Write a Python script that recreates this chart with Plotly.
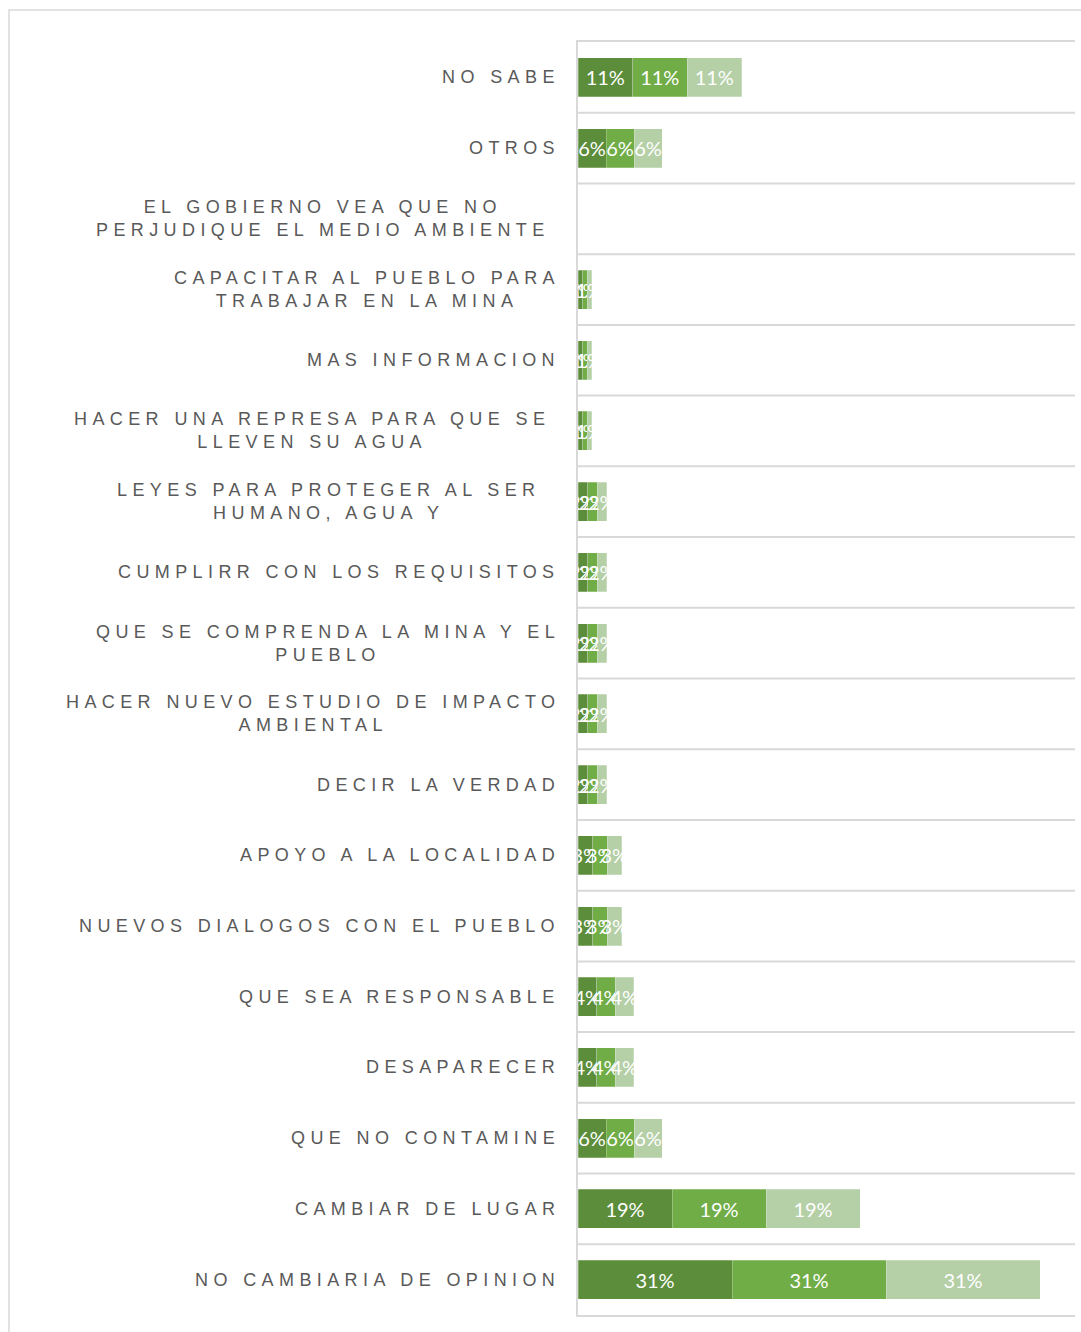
import plotly.graph_objects as go

categories = [
    "NO SABE",
    "OTROS",
    "EL GOBIERNO VEA QUE NO<br>PERJUDIQUE EL MEDIO AMBIENTE",
    "CAPACITAR AL PUEBLO PARA<br>TRABAJAR EN LA MINA",
    "MAS INFORMACION",
    "HACER UNA REPRESA PARA QUE SE<br>LLEVEN SU AGUA",
    "LEYES PARA PROTEGER AL SER<br>HUMANO, AGUA Y",
    "CUMPLIRR CON LOS REQUISITOS",
    "QUE SE COMPRENDA LA MINA Y EL<br>PUEBLO",
    "HACER NUEVO ESTUDIO DE IMPACTO<br>AMBIENTAL",
    "DECIR LA VERDAD",
    "APOYO A LA LOCALIDAD",
    "NUEVOS DIALOGOS CON EL PUEBLO",
    "QUE SEA RESPONSABLE",
    "DESAPARECER",
    "QUE NO CONTAMINE",
    "CAMBIAR DE LUGAR",
    "NO CAMBIARIA DE OPINION",
]
# percent values (same for the three series)
serie1 = [10.9, 5.6, 0.0, 0.9, 0.9, 0.9, 1.9, 1.9, 1.9, 1.9, 1.9, 2.9, 2.9, 3.7, 3.7, 5.6, 18.8, 30.8]
serie2 = list(serie1)
serie3 = list(serie1)
series_names = ["Serie 1", "Serie 2", "Serie 3"]
colors = ["#5B8D3A", "#70AD47", "#B5CFA7"]
label_shift = [0, 0, -10, 0, 0, -10, -19, 0, 0, 0, 0, 0, 0, 0, 0, 0, 0, 0]

fig = go.Figure()
for name, vals, col in zip(series_names, [serie1, serie2, serie3], colors):
    fig.add_trace(go.Bar(
        y=list(range(len(categories))), x=vals, orientation="h", name=name,
        marker=dict(color=col, line=dict(color="rgba(255,255,255,0.5)", width=0.5)),
        texttemplate="%{x:.0f}%", textposition="inside", insidetextanchor="middle",
        constraintext="none", textangle=0,
        textfont=dict(family="Lato", size=20, color="white"),
        hoverinfo="skip",
    ))

SP = "letter-spacing:5.4px"
for i, (cat, sh) in enumerate(zip(categories, label_shift)):
    lines = cat.split("<br>")
    txt = "<br>".join(f'<span style="{SP}">{ln}</span>' for ln in lines)
    fig.add_annotation(
        x=0, xref="paper", y=i, yref="y", text=txt, showarrow=False,
        xanchor="right", yanchor="middle", align="center", xshift=-16 + sh,
        font=dict(family="Liberation Sans", size=18, color="#595959"),
    )

fig.add_shape(type="rect", xref="paper", yref="paper",
              x0=-1.1449, x1=1.05, y0=-0.1, y1=1.0251,
              line=dict(color="#D9D9D9", width=1.5), fillcolor="rgba(0,0,0,0)")

fig.update_layout(
    barmode="stack", bargap=0.448, showlegend=False,
    width=1081, height=1332, autosize=False,
    margin=dict(l=578, r=6, t=42, b=17),
    paper_bgcolor="white", plot_bgcolor="white",
    xaxis=dict(range=[0, 99.4], showgrid=False, zeroline=False, showticklabels=False,
               ticks="", showline=True, mirror=True, linecolor="#D9D9D9", linewidth=2),
    yaxis=dict(range=[len(categories) - 0.5, -0.5], showticklabels=False, ticks="",
               showgrid=False, zeroline=False,
               showline=True, linecolor="#D9D9D9", linewidth=2),
)
for k in range(1, len(categories)):
    fig.add_hline(y=k - 0.5, line=dict(color="#D9D9D9", width=2), layer="below")

fig.write_html("out.html", config={"displayModeBar": False},
               post_script="document.body.style.margin='0';document.body.style.overflow='hidden';")
